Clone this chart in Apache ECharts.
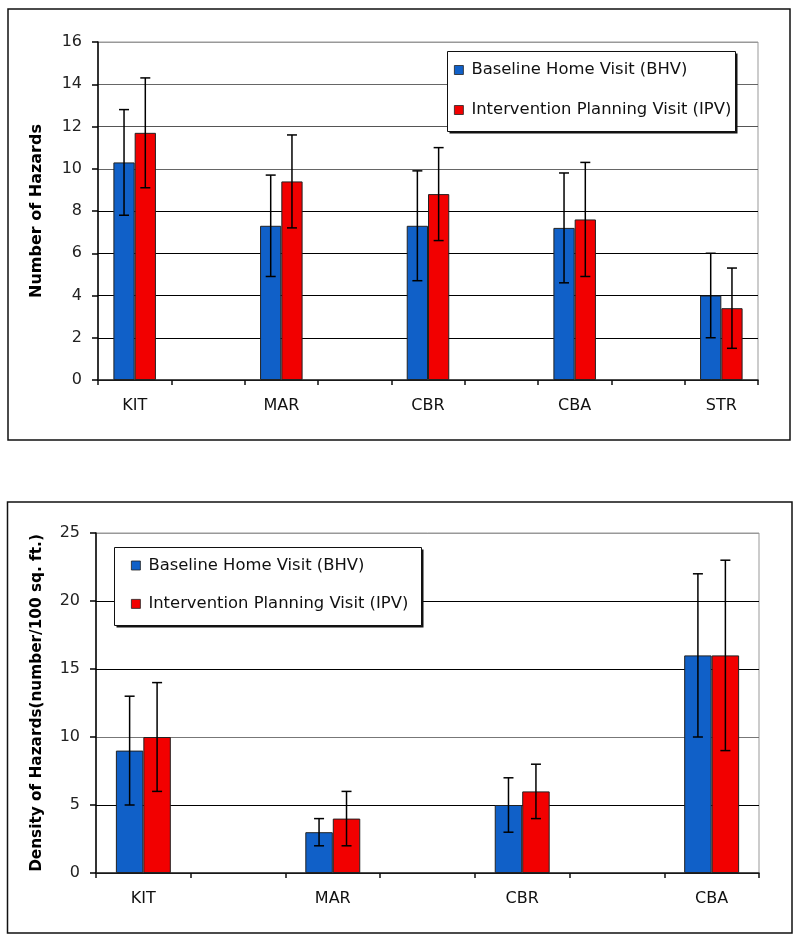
<!DOCTYPE html>
<html>
<head>
<meta charset="utf-8">
<script src="https://cdn.jsdelivr.net/npm/echarts@6/dist/echarts.min.js"></script>
<style>
html,body{margin:0;padding:0;background:#fff;}
#chart{width:800px;height:943px;}
</style>
</head>
<body>
<div id="chart"></div>
<script>
// ---- Data ----
const seriesNames = ['Baseline Home Visit (BHV)', 'Intervention Planning Visit (IPV)'];

// Top chart: Number of Hazards
const countCategories = ['KIT', 'MAR', 'CBR', 'CBA', 'STR'];
const bhvCount    = [10.3, 7.3, 7.3, 7.2, 4.0];
const bhvCountErr = [2.5, 2.4, 2.6, 2.6, 2.0];
const ipvCount    = [11.7, 9.4, 8.8, 7.6, 3.4];
const ipvCountErr = [2.6, 2.2, 2.2, 2.7, 1.9];
const countTicks = {min: 0, max: 16, interval: 2};

// Bottom chart: Density of Hazards
const densityCategories = ['KIT', 'MAR', 'CBR', 'CBA'];
const bhvDensity    = [9, 3, 5, 16];
const bhvDensityErr = [4, 1, 2, 6];
const ipvDensity    = [10, 4, 6, 16];
const ipvDensityErr = [4, 2, 2, 7];
const densityTicks = {min: 0, max: 25, interval: 5};

// ---- Helpers ----
const FONT = 'DejaVu Sans';
const BLUE = '#1060C8';
const RED = '#F20000';
const BAR_RATIO = 0.29;

// Excel chart leaves an empty slot between each named category
function spaced(cats) {
  const out = [];
  cats.forEach((c, i) => { out.push(c); if (i < cats.length - 1) out.push(''); });
  return out;
}
function barData(vals) {
  const out = [];
  vals.forEach((v, i) => { out.push(v); if (i < vals.length - 1) out.push('-'); });
  return out;
}
function errData(vals, errs) {
  return vals.map((v, i) => [i * 2, v, errs[i]]);
}
function errRender(side) {
  return function (params, api) {
    const cat = api.value(0), val = api.value(1), err = api.value(2);
    const hi = api.coord([cat, val + err]);
    const lo = api.coord([cat, val - err]);
    const bw = api.size([1, 0])[0] * BAR_RATIO;
    const x = hi[0] + side * bw / 2;
    const cap = 5;
    const style = {stroke: '#000', lineWidth: 1.5};
    return {
      type: 'group',
      children: [
        {type: 'line', shape: {x1: x, y1: hi[1], x2: x, y2: lo[1]}, style},
        {type: 'line', shape: {x1: x - cap, y1: hi[1], x2: x + cap, y2: hi[1]}, style},
        {type: 'line', shape: {x1: x - cap, y1: lo[1], x2: x + cap, y2: lo[1]}, style}
      ]
    };
  };
}

function xAxisCfg(gridIndex, cats) {
  return {
    type: 'category', gridIndex, data: spaced(cats),
    axisLine: {lineStyle: {color: '#222', width: 1.5}},
    axisTick: {show: true, alignWithLabel: false, interval: 0, length: 5, lineStyle: {color: '#111', width: 1.5}},
    axisLabel: {interval: 0, margin: 18, fontFamily: FONT, fontSize: 16, color: '#111'}
  };
}
function yAxisCfg(gridIndex, ticks, name, nameGap, nameSize, gridColors) {
  return {
    type: 'value', gridIndex, min: ticks.min, max: ticks.max, interval: ticks.interval,
    name, nameLocation: 'middle', nameGap, nameRotate: 90,
    nameTextStyle: {fontFamily: FONT, fontSize: nameSize, fontWeight: 'bold', color: '#000'},
    axisLine: {show: true, lineStyle: {color: '#000', width: 1.5}},
    axisTick: {show: true, length: 6, lineStyle: {color: '#000', width: 1.5}},
    axisLabel: {margin: 16, fontFamily: FONT, fontSize: 16, color: '#222'},
    splitLine: {show: true, lineStyle: {color: gridColors, width: 1.2}}
  };
}
function legendCfg(left, top, itemGap) {
  return {
    orient: 'vertical', left, top, padding: 0, itemGap,
    data: seriesNames,
    icon: 'rect', itemWidth: 9, itemHeight: 9,
    textStyle: {fontFamily: FONT, fontSize: 16.4, color: '#111', lineHeight: 20, padding: [0, 0, 0, 3]},
    itemStyle: {borderColor: '#222', borderWidth: 0.8},
    selectedMode: false
  };
}
function legendBox(x, y, w, h) {
  return [
    {type: 'rect', z: 3, shape: {x: x + 2, y: y + 2, width: w, height: h}, style: {fill: '#111'}},
    {type: 'rect', z: 3, shape: {x, y, width: w, height: h}, style: {fill: '#fff', stroke: '#111', lineWidth: 1}}
  ];
}
function barSeries(name, xi, vals) {
  return {
    name, type: 'bar', xAxisIndex: xi, yAxisIndex: xi,
    data: barData(vals), barWidth: (BAR_RATIO * 100) + '%', barGap: '0%',
    itemStyle: {color: name === seriesNames[0] ? BLUE : RED, borderColor: '#222', borderWidth: 1},
    animation: false
  };
}
function errSeries(name, xi, vals, errs, side) {
  return {
    name, type: 'custom', xAxisIndex: xi, yAxisIndex: xi,
    data: errData(vals, errs), renderItem: errRender(side), z: 5, animation: false
  };
}

const chart = echarts.init(document.getElementById('chart'), null, {renderer: 'canvas'});
chart.setOption({
  animation: false,
  backgroundColor: '#fff',
  graphic: [
    {type: 'rect', shape: {x: 8, y: 9, width: 782, height: 431}, style: {fill: 'none', stroke: '#111', lineWidth: 1.5}, z: -1},
    {type: 'rect', shape: {x: 7.5, y: 502, width: 784.5, height: 431}, style: {fill: 'none', stroke: '#111', lineWidth: 1.5}, z: -1},
    ...legendBox(447.5, 51.5, 288, 80),
    ...legendBox(114.5, 547.5, 307, 78)
  ],
  grid: [
    {left: 98, top: 42, right: 42, bottom: 563, show: true, borderColor: '#999', borderWidth: 1, backgroundColor: 'transparent'},
    {left: 96, top: 533, right: 41, bottom: 70, show: true, borderColor: '#999', borderWidth: 1, backgroundColor: 'transparent'}
  ],
  legend: [
    legendCfg(454, 60, 20),
    legendCfg(131, 555.5, 18.4)
  ],
  xAxis: [xAxisCfg(0, countCategories), xAxisCfg(1, densityCategories)],
  yAxis: [
    yAxisCfg(0, countTicks, 'Number of Hazards', 53, 16,
      ['#000', '#000', '#000', '#000', '#000', '#666', '#555', '#666', '#999']),
    yAxisCfg(1, densityTicks, 'Density of Hazards(number/100 sq. ft.)', 51, 15.3,
      ['#000', '#000', '#777', '#000', '#000', '#999'])
  ],
  series: [
    barSeries(seriesNames[0], 0, bhvCount),
    barSeries(seriesNames[1], 0, ipvCount),
    errSeries(seriesNames[0], 0, bhvCount, bhvCountErr, -1),
    errSeries(seriesNames[1], 0, ipvCount, ipvCountErr, 1),
    barSeries(seriesNames[0], 1, bhvDensity),
    barSeries(seriesNames[1], 1, ipvDensity),
    errSeries(seriesNames[0], 1, bhvDensity, bhvDensityErr, -1),
    errSeries(seriesNames[1], 1, ipvDensity, ipvDensityErr, 1)
  ]
});
</script>
</body>
</html>
